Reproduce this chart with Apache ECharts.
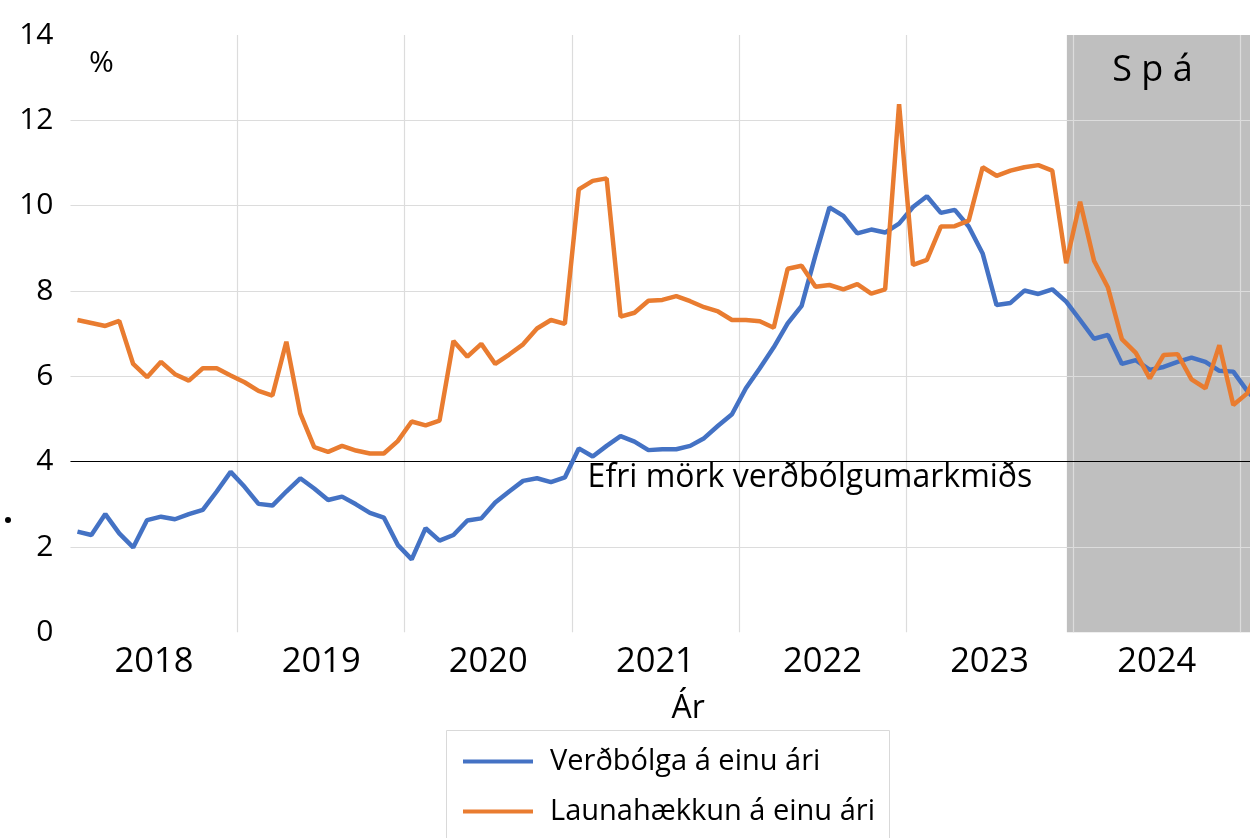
<!DOCTYPE html>
<html>
<head>
<meta charset="utf-8">
<script src="https://cdn.jsdelivr.net/npm/echarts@6/dist/echarts.min.js"></script>
<style>
  html, body { margin: 0; padding: 0; background: #fff; }
  #chart { width: 1250px; height: 838px; }
</style>
</head>
<body>
<div id="chart"></div>
<script>
// Monthly values from Jan 2018, one entry per month
var years = ["2018", "2019", "2020", "2021", "2022", "2023", "2024"];

var inflation = [
  2.36, 2.28, 2.77, 2.32, 1.99, 2.63, 2.71, 2.65, 2.77, 2.87, 3.30, 3.76,
  3.41, 3.01, 2.97, 3.30, 3.61, 3.37, 3.10, 3.18, 3.00, 2.80, 2.69, 2.05,
  1.71, 2.44, 2.15, 2.28, 2.62, 2.67, 3.04, 3.30, 3.55, 3.61, 3.52, 3.63,
  4.31, 4.12, 4.37, 4.60, 4.47, 4.27, 4.29, 4.29, 4.37, 4.55, 4.84, 5.11,
  5.72, 6.19, 6.68, 7.24, 7.65, 8.84, 9.96, 9.76, 9.35, 9.44, 9.37, 9.58,
  9.97, 10.22, 9.83, 9.90, 9.51, 8.88, 7.67, 7.72, 8.01, 7.93, 8.04, 7.75,
  7.32, 6.88, 6.97, 6.29, 6.38, 6.15, 6.22, 6.34, 6.44, 6.34, 6.13, 6.11,
  5.66, 5.30
];

var wages = [
  7.32, 7.25, 7.18, 7.30, 6.29, 5.98, 6.34, 6.05, 5.90, 6.19, 6.19, 6.02,
  5.86, 5.66, 5.55, 6.81, 5.13, 4.34, 4.23, 4.37, 4.26, 4.19, 4.19, 4.48,
  4.94, 4.85, 4.96, 6.83, 6.46, 6.76, 6.29, 6.51, 6.75, 7.12, 7.32, 7.23,
  10.38, 10.58, 10.64, 7.40, 7.49, 7.77, 7.79, 7.88, 7.76, 7.62, 7.52, 7.32,
  7.32, 7.29, 7.14, 8.52, 8.59, 8.10, 8.14, 8.04, 8.16, 7.94, 8.04, 12.38,
  8.61, 8.73, 9.51, 9.52, 9.65, 10.90, 10.70, 10.82, 10.90, 10.95, 10.82, 8.65,
  10.09, 8.71, 8.08, 6.87, 6.55, 5.95, 6.50, 6.52, 5.93, 5.72, 6.73, 5.33,
  5.60, 6.30
];

var seriesNames = ["Verðbólga á einu ári", "Launahækkun á einu ári"];
var targetUpper = 4;
var targetLabel = "Efri mörk verðbólgumarkmiðs";
var forecastLabel = "S p á";
var forecastStart = 71.55; // months from Jan 2018

var FONT = "Open Sans";

// month i is drawn at the middle of its band
function toPoints(values) {
  return values.map(function(v, i) { return [i + 0.5, v]; });
}

var chart = echarts.init(document.getElementById("chart"), null, { renderer: "canvas" });

chart.setOption({
  animation: false,
  textStyle: { fontFamily: FONT, color: "#000" },
  grid: { left: 70.5, right: 0, top: 35, bottom: 205.7 },
  xAxis: {
    type: "value",
    min: 0,
    max: 84.7,
    interval: 12,
    z: 1,
    name: "Ár",
    nameLocation: "middle",
    nameGap: 61,
    nameTextStyle: { fontSize: 32, color: "#000", padding: [0, 0, 0, 56] },
    axisLine: { show: false },
    axisTick: { show: false },
    axisLabel: {
      customValues: [6, 18, 30, 42, 54, 66, 78],
      formatter: function(v) { return years[Math.round((v - 6) / 12)]; },
      fontSize: 34.5,
      color: "#000",
      margin: 12
    },
    splitLine: {
      show: true,
      showMinLine: false,
      showMaxLine: false,
      lineStyle: { color: "#dcdcdc", width: 1.2 }
    }
  },
  yAxis: {
    type: "value",
    min: 0,
    max: 14,
    interval: 2,
    z: 1,
    axisLine: { show: false },
    axisTick: { show: false },
    axisLabel: {
      fontSize: 30,
      color: "#000",
      margin: 17
    },
    splitLine: {
      show: true,
      showMinLine: false,
      showMaxLine: false,
      lineStyle: { color: "#dcdcdc", width: 1.2 }
    }
  },
  legend: {
    orient: "vertical",
    left: 446,
    top: 730,
    padding: [17, 0, 0, 17],
    itemGap: 21,
    itemWidth: 70,
    itemHeight: 4,
    icon: "rect",
    textStyle: { fontSize: 29, color: "#000", padding: [0, 0, 0, 12] },
    data: seriesNames
  },
  graphic: [
    { type: "text", left: 89, top: 48, style: { text: "%", fontSize: 30, fontFamily: FONT, fill: "#000" } },
    { type: "circle", shape: { cx: 8, cy: 520, r: 3 }, style: { fill: "#000" } },
    // legend frame, bottom edge runs off the page like in the source
    { type: "rect", shape: { x: 446.5, y: 730.5, width: 443, height: 130 },
      style: { fill: "none", stroke: "#d9d9d9", lineWidth: 1 } }
  ],
  series: [
    {
      name: "forecast",
      type: "line",
      data: [],
      z: 0,
      markArea: {
        silent: true,
        z: 0,
        itemStyle: { color: "#bfbfbf" },
        label: {
          show: true,
          position: "insideTop",
          distance: 18,
          offset: [-6, 0],
          fontSize: 36,
          color: "#000",
          fontFamily: FONT
        },
        data: [[{ xAxis: forecastStart, name: forecastLabel }, { xAxis: 84.7 }]]
      }
    },
    {
      name: seriesNames[0],
      type: "line",
      data: toPoints(inflation),
      symbol: "none",
      color: "#4472c4",
      lineStyle: { width: 4.5, color: "#4472c4" },
      z: 3,
      markLine: {
        silent: true,
        symbol: "none",
        z: 2,
        label: { show: false },
        lineStyle: { color: "#000", width: 1.2, type: "solid" },
        data: [{ yAxis: targetUpper }]
      },
      markPoint: {
        silent: true,
        symbolSize: 0,
        label: {
          show: true,
          position: "bottom",
          distance: 0,
          fontSize: 32,
          color: "#000",
          fontFamily: FONT,
          formatter: targetLabel
        },
        data: [{ coord: [53.1, targetUpper] }]
      }
    },
    {
      name: seriesNames[1],
      type: "line",
      data: toPoints(wages),
      symbol: "none",
      color: "#e97c30",
      lineStyle: { width: 4.5, color: "#e97c30" },
      z: 3
    }
  ]
});
</script>
</body>
</html>
